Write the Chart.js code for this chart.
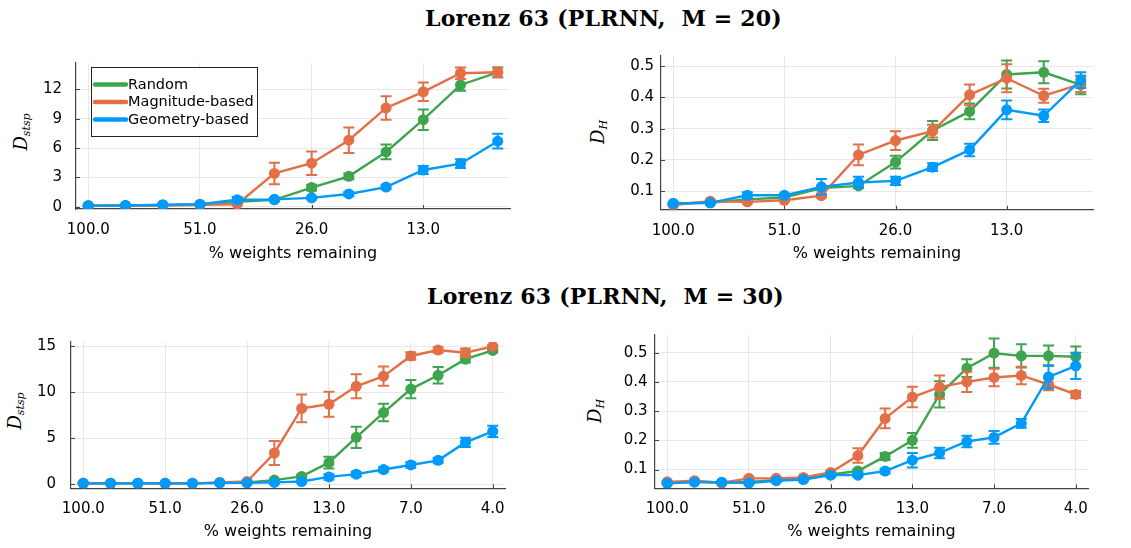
<!DOCTYPE html>
<html>
<head>
<meta charset="utf-8">
<script src="https://cdn.jsdelivr.net/npm/chart.js@4.4.1/dist/chart.umd.min.js"></script>
<style>
  html, body { margin: 0; padding: 0; background: #fff; }
  #wrap { position: relative; width: 1131px; height: 548px; overflow: hidden; background: #fff; }
  canvas { position: absolute; }
  .title { position: absolute; font-family: "DejaVu Serif", serif; font-weight: bold; font-size: 22px; letter-spacing: 0.2px; white-space: pre; color: #000; }
  .ylab { position: absolute; font-family: "DejaVu Serif", "Liberation Serif", serif; font-style: italic; font-size: 18px; color: #000;
          transform: translate(-50%, -50%) rotate(-90deg); white-space: nowrap; }
  .ylab sub { font-size: 11px; vertical-align: -3px; }
</style>
</head>
<body>
<div id="wrap">
  <div class="title" id="t1" style="left:425px; top:5px;">Lorenz 63 (PLRNN,  M = 20)</div>
  <div class="title" id="t2" style="left:427px; top:283px;">Lorenz 63 (PLRNN,  M = 30)</div>
  <div class="ylab" style="left:21px; top:132px;">D<sub>stsp</sub></div>
  <div class="ylab" style="left:598px; top:132px;">D<sub>H</sub></div>
  <div class="ylab" style="left:15px; top:411px;">D<sub>stsp</sub></div>
  <div class="ylab" style="left:595px; top:411px;">D<sub>H</sub></div>
  <canvas id="c1"></canvas>
  <canvas id="c2"></canvas>
  <canvas id="c3"></canvas>
  <canvas id="c4"></canvas>
</div>
<script>
// ---------- data ----------
const seriesNames = ['Random', 'Magnitude-based', 'Geometry-based'];
const seriesColors = ['#3EA44E', '#E36F47', '#009AFA'];

const xTickLabelsM20 = ['100.0', '51.0', '26.0', '13.0'];
const xTickLabelsM30 = ['100.0', '51.0', '26.0', '13.0', '7.0', '4.0'];

// M = 20, D_stsp
const randM20D    = [0.1, 0.1, 0.15, 0.2, 0.5, 0.7, 1.95, 3.1, 5.6, 8.9, 12.45, 13.75];
const randM20DErr = [0.05, 0.05, 0.05, 0.05, 0.1, 0.15, 0.3, 0.3, 0.75, 1.05, 0.6, 0.5];
const magM20D     = [0.1, 0.1, 0.15, 0.2, 0.25, 3.4, 4.45, 6.8, 10.1, 11.75, 13.65, 13.75];
const magM20DErr  = [0.05, 0.05, 0.05, 0.05, 0.1, 1.1, 1.2, 1.3, 1.2, 0.95, 0.6, 0.5];
const geoM20D     = [0.1, 0.12, 0.2, 0.25, 0.7, 0.75, 0.9, 1.3, 2.0, 3.75, 4.4, 6.7];
const geoM20DErr  = [0.05, 0.05, 0.05, 0.05, 0.3, 0.15, 0.15, 0.2, 0.2, 0.4, 0.45, 0.75];

// M = 20, D_H
const randM20H    = [0.061, 0.063, 0.074, 0.08, 0.11, 0.117, 0.193, 0.294, 0.355, 0.473, 0.48, 0.44];
const randM20HErr = [0.003, 0.003, 0.004, 0.004, 0.006, 0.006, 0.02, 0.03, 0.025, 0.045, 0.035, 0.03];
const magM20H     = [0.056, 0.068, 0.066, 0.071, 0.086, 0.216, 0.262, 0.292, 0.408, 0.461, 0.405, 0.442];
const magM20HErr  = [0.003, 0.004, 0.004, 0.004, 0.006, 0.033, 0.03, 0.02, 0.033, 0.045, 0.022, 0.025];
const geoM20H     = [0.061, 0.063, 0.087, 0.087, 0.114, 0.128, 0.133, 0.177, 0.232, 0.36, 0.341, 0.455];
const geoM20HErr  = [0.003, 0.003, 0.01, 0.006, 0.025, 0.018, 0.013, 0.012, 0.02, 0.03, 0.02, 0.025];

// M = 30, D_stsp
const randM30D    = [0.1, 0.1, 0.1, 0.1, 0.1, 0.15, 0.2, 0.45, 0.85, 2.35, 5.1, 7.8, 10.35, 11.85, 13.6, 14.55];
const randM30DErr = [0.05, 0.05, 0.05, 0.05, 0.05, 0.05, 0.05, 0.1, 0.15, 0.65, 1.15, 0.95, 1.0, 0.9, 0.35, 0.2];
const magM30D     = [0.1, 0.1, 0.1, 0.1, 0.1, 0.2, 0.3, 3.4, 8.25, 8.7, 10.65, 11.75, 13.95, 14.6, 14.3, 15.0];
const magM30DErr  = [0.05, 0.05, 0.05, 0.05, 0.05, 0.05, 0.1, 1.3, 1.5, 1.35, 1.3, 1.05, 0.4, 0.3, 0.45, 0.15];
const geoM30D     = [0.1, 0.1, 0.1, 0.1, 0.1, 0.15, 0.15, 0.2, 0.3, 0.8, 1.1, 1.6, 2.1, 2.6, 4.55, 5.75];
const geoM30DErr  = [0.05, 0.05, 0.05, 0.05, 0.05, 0.05, 0.05, 0.1, 0.1, 0.3, 0.25, 0.25, 0.3, 0.25, 0.5, 0.6];

// M = 30, D_H
const randM30H    = [0.055, 0.058, 0.055, 0.058, 0.064, 0.067, 0.083, 0.095, 0.145, 0.2, 0.357, 0.447, 0.498, 0.489, 0.489, 0.486];
const randM30HErr = [0.003, 0.003, 0.003, 0.003, 0.004, 0.004, 0.006, 0.006, 0.012, 0.025, 0.045, 0.03, 0.05, 0.04, 0.035, 0.035];
const magM30H     = [0.058, 0.062, 0.055, 0.07, 0.07, 0.073, 0.09, 0.148, 0.275, 0.348, 0.382, 0.4, 0.415, 0.422, 0.391, 0.357];
const magM30HErr  = [0.003, 0.004, 0.003, 0.004, 0.004, 0.004, 0.006, 0.025, 0.034, 0.035, 0.04, 0.035, 0.03, 0.03, 0.02, 0.012];
const geoM30H     = [0.053, 0.057, 0.057, 0.054, 0.062, 0.066, 0.081, 0.081, 0.095, 0.132, 0.157, 0.196, 0.21, 0.258, 0.417, 0.455];
const geoM30HErr  = [0.003, 0.003, 0.003, 0.003, 0.004, 0.004, 0.006, 0.006, 0.008, 0.025, 0.018, 0.02, 0.022, 0.015, 0.04, 0.045];

const yTicksM20D = [0, 3, 6, 9, 12];
const yTicksH    = [0.1, 0.2, 0.3, 0.4, 0.5];
const yTicksM30D = [0, 5, 10, 15];

// ---------- plugins ----------
const errorBarPlugin = {
  id: 'errorBars',
  beforeDatasetDraw(chart, args) {
    const ds = chart.data.datasets[args.index];
    if (!ds.errors) return;
    const ctx = chart.ctx;
    const xs = chart.scales.x, ys = chart.scales.y;
    ctx.save();
    ctx.strokeStyle = ds.borderColor;
    ctx.lineWidth = 2;
    ds.data.forEach((p, i) => {
      const e = ds.errors[i];
      const px = xs.getPixelForValue(p.x);
      const y1 = ys.getPixelForValue(p.y - e);
      const y2 = ys.getPixelForValue(p.y + e);
      ctx.beginPath();
      ctx.moveTo(px, y1); ctx.lineTo(px, y2);
      ctx.moveTo(px - 5.5, y1); ctx.lineTo(px + 5.5, y1);
      ctx.moveTo(px - 5.5, y2); ctx.lineTo(px + 5.5, y2);
      ctx.stroke();
    });
    ctx.restore();
  }
};

// small inward tick marks on the axes
const innerTicksPlugin = {
  id: 'innerTicks',
  beforeDatasetsDraw(chart) {
    const ctx = chart.ctx, a = chart.chartArea;
    const xs = chart.scales.x, ys = chart.scales.y;
    ctx.save();
    ctx.strokeStyle = '#444';
    ctx.lineWidth = 1;
    ctx.beginPath();
    xs.ticks.forEach(t => {
      const px = Math.round(xs.getPixelForValue(t.value)) + 0.5;
      ctx.moveTo(px, a.bottom); ctx.lineTo(px, a.bottom - 4);
    });
    ys.ticks.forEach(t => {
      const py = Math.round(ys.getPixelForValue(t.value)) + 0.5;
      ctx.moveTo(a.left, py); ctx.lineTo(a.left + 4, py);
    });
    ctx.stroke();
    ctx.restore();
  }
};

const boxLegendPlugin = {
  id: 'boxLegend',
  afterDraw(chart, args, opts) {
    if (!opts || !opts.show) return;
    const ctx = chart.ctx;
    const a = chart.chartArea;
    const x0 = a.left + opts.dx, y0 = a.top + opts.dy;
    ctx.save();
    ctx.fillStyle = '#fff';
    ctx.fillRect(x0, y0, opts.w, opts.h);
    ctx.strokeStyle = '#222';
    ctx.lineWidth = 1;
    ctx.strokeRect(x0 + 0.5, y0 + 0.5, opts.w, opts.h);
    ctx.font = '14.5px "DejaVu Sans"';
    ctx.textBaseline = 'middle';
    [0, 1, 2].forEach((k, r) => {
      const ds = chart.data.datasets[k];
      const cy = y0 + 17.5 + r * 17.5;
      ctx.strokeStyle = ds.borderColor;
      ctx.lineWidth = 4.5;
      ctx.lineCap = 'round';
      ctx.beginPath();
      ctx.moveTo(x0 + 4, cy); ctx.lineTo(x0 + 35, cy);
      ctx.stroke();
      ctx.fillStyle = '#000';
      ctx.fillText(ds.label, x0 + 37, cy + 0.5);
    });
    ctx.restore();
  }
};

// ---------- builder ----------
function makeDatasets(vals, errs) {
  return vals.map((v, k) => ({
    label: seriesNames[k],
    data: v.map((y, i) => ({ x: i, y: y })),
    errors: errs[k],
    borderColor: seriesColors[k],
    backgroundColor: seriesColors[k],
    pointBackgroundColor: seriesColors[k],
    pointBorderWidth: 0,
    pointRadius: 5.5,
    borderWidth: 2.4,
    order: 3 - k,
    tension: 0
  }));
}

function makeChart(id, box, area, vals, errs, xLabels, xRange, yTicks, yRange, yPad, titlePadB, legend) {
  const cv = document.getElementById(id);
  cv.style.left = box.left + 'px';
  cv.style.top = box.top + 'px';
  cv.style.width = box.w + 'px';
  cv.style.height = box.h + 'px';
  cv.width = box.w; cv.height = box.h;
  const yW = area.left - box.left;
  const xH = box.top + box.h - area.bottom;
  return new Chart(cv, {
    type: 'line',
    data: { datasets: makeDatasets(vals, errs) },
    plugins: [innerTicksPlugin, errorBarPlugin, boxLegendPlugin],
    options: {
      responsive: false,
      animation: false,
      events: [],
      layout: { autoPadding: false, padding: { top: area.top - box.top, right: box.left + box.w - area.right, left: 0, bottom: 0 } },
      plugins: {
        legend: { display: false },
        tooltip: { enabled: false },
        boxLegend: legend
      },
      scales: {
        x: {
          type: 'linear',
          min: xRange[0], max: xRange[1],
          afterBuildTicks: s => { s.ticks = xLabels.map((_, i) => ({ value: i * 3 })); },
          afterFit: s => { s.height = xH; },
          ticks: {
            callback: v => xLabels[Math.round(v / 3)],
            font: { family: 'DejaVu Sans', size: 15 },
            color: '#000',
            padding: 12,
            maxRotation: 0, autoSkip: false
          },
          grid: { color: 'rgba(0,0,0,0.09)', drawTicks: false, lineWidth: 1 },
          border: { color: '#444', width: 1.2 },
          title: { display: true, text: '% weights remaining', font: { family: 'DejaVu Sans', size: 16 }, color: '#000', padding: { top: 0, bottom: titlePadB } }
        },
        y: {
          type: 'linear',
          min: yRange[0], max: yRange[1],
          afterBuildTicks: s => { s.ticks = yTicks.map(v => ({ value: v })); },
          afterFit: s => { s.width = yW; },
          ticks: {
            callback: v => String(v),
            font: { family: 'DejaVu Sans', size: 15 },
            color: '#000',
            padding: yPad
          },
          grid: { color: 'rgba(0,0,0,0.09)', drawTicks: false, lineWidth: 1 },
          border: { color: '#444', width: 1.2 }
        }
      }
    }
  });
}

makeChart('c1', { left: 0, top: 40, w: 565, h: 232 }, { left: 76, top: 55, right: 510, bottom: 209 },
  [randM20D, magM20D, geoM20D], [randM20DErr, magM20DErr, geoM20DErr],
  xTickLabelsM20, [-0.33, 11.33], yTicksM20D, [-0.24, 14.7], 14, 9,
  { show: true, dx: 15, dy: 4, w: 166, h: 69 });

makeChart('c2', { left: 565, top: 40, w: 566, h: 232 }, { left: 661, top: 55, right: 1093, bottom: 209.7 },
  [randM20H, magM20H, geoM20H], [randM20HErr, magM20HErr, geoM20HErr],
  xTickLabelsM20, [-0.33, 11.33], yTicksH, [0.041, 0.532], 7, 9, { show: false });

makeChart('c3', { left: 0, top: 318, w: 565, h: 230 }, { left: 71, top: 333, right: 505, bottom: 488.3 },
  [randM30D, magM30D, geoM30D], [randM30DErr, magM30DErr, geoM30DErr],
  xTickLabelsM30, [-0.45, 15.45], yTicksM30D, [-0.44, 15.47], 15, 6.5, { show: false });

makeChart('c4', { left: 565, top: 318, w: 566, h: 230 }, { left: 655, top: 333, right: 1088, bottom: 488.3 },
  [randM30H, magM30H, geoM30H], [randM30HErr, magM30HErr, geoM30HErr],
  xTickLabelsM30, [-0.45, 15.45], yTicksH, [0.036, 0.562], 7.5, 6.5, { show: false });
</script>
</body>
</html>
